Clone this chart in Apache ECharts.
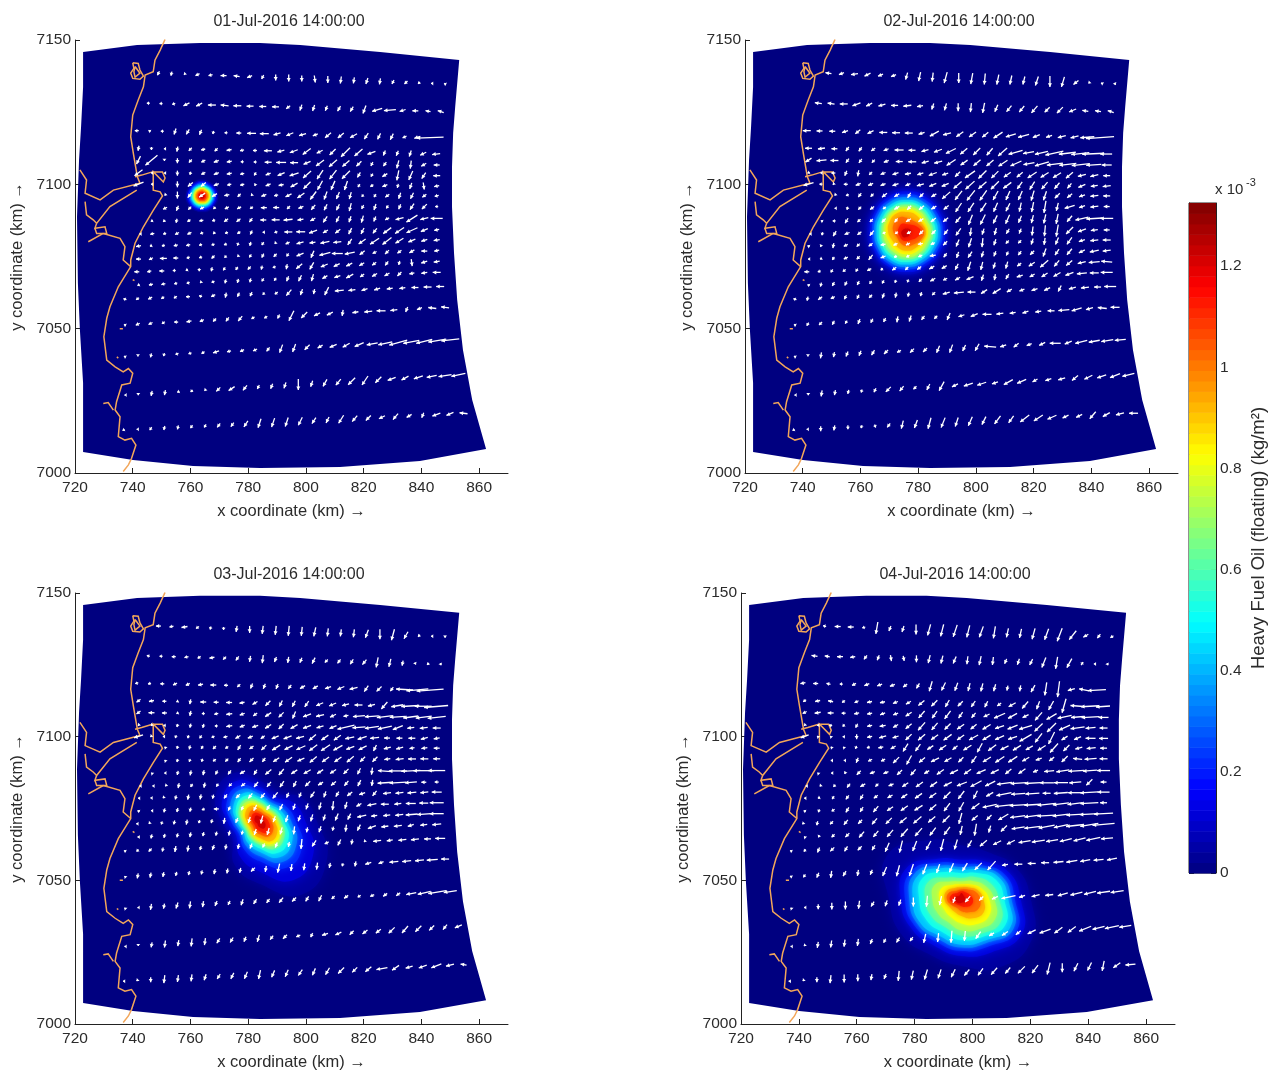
<!DOCTYPE html>
<html><head><meta charset="utf-8">
<script src="https://cdn.jsdelivr.net/npm/echarts@6/dist/echarts.min.js"></script>
<style>html,body{margin:0;padding:0;background:#fff}#c{width:1272px;height:1072px}</style></head>
<body><div id="c"></div>
<script>
const panelTitles=['01-Jul-2016 14:00:00','02-Jul-2016 14:00:00','03-Jul-2016 14:00:00','04-Jul-2016 14:00:00'];
const xTicks=[720,740,760,780,800,820,840,860];
const yTicks=[7000,7050,7100,7150];
const colorbarTicks=[0,0.2,0.4,0.6,0.8,1,1.2];
const colorMax=1.325;

// model domain outline (km)
const domainOutline=[[722.8,7145.8],[741.5,7148.3],[763.3,7149],[784.1,7149],[798,7148.3],[825.7,7145.8],[853.1,7143.1],[851.7,7126.8],[851,7117.8],[850.6,7106],[850.6,7092.2],[851.3,7076.2],[852.4,7059.9],[854.4,7042.6],[857.6,7025.3],[862.4,7008.3],[839.5,7004.2],[811.8,7002.1],[784.1,7001.7],[760.9,7002.4],[740.1,7004.5],[722.8,7007.3],[722.8,7031.2],[721.7,7049.5],[721,7065.8],[720.7,7088.7],[721.4,7108.4],[722.1,7119.9],[722.8,7133.7]];

// coastline (km)
const coastNorth=[[751.2,7150.2],[749.5,7146.5],[747.7,7143],[747.1,7139],[744.3,7137.9],[743.7,7133.8],[741.9,7129.2],[740,7124],[739.3,7116.5],[740.2,7110.8],[741.6,7102.6],[742.5,7100.4],[733.3,7098],[728.7,7094.6],[723.5,7096.9],[724,7101.5],[721.7,7105]];
const coastSouth=[[740.8,7102.6],[743.1,7103.2],[747.1,7104.4],[750.3,7104.3],[751.2,7102.2],[750.6,7100.8],[747.1,7104.4],[747.1,7098],[749.5,7097.4],[750.3,7096],[747.1,7091],[743.7,7085.3],[740.8,7079.6],[739.3,7073.8],[739.3,7071.5],[735,7064.5],[732.1,7057.6],[731,7053.6],[730,7047.2],[731,7039.1],[733.9,7036.8],[736.7,7035],[738.5,7036.2],[740,7034.6],[739.1,7031.1],[736.2,7030.5],[734.4,7024.7],[733.9,7021.8],[735.6,7019.5],[735,7012.6],[737.3,7011.4],[739.6,7012],[741.1,7009.7],[739.6,7005.1],[738.5,7002.8],[736.7,7000.5]];
const coastBranch=[[729.8,7024.1],[731.5,7024.4],[733.3,7021.8]];
const coastEstuary=[[741.4,7098],[732.1,7092.3],[727.5,7086.5],[726.9,7084.8],[730.4,7085.3],[731,7083],[727.5,7083],[726.9,7084.8]];
const coastEstuary2=[[729.8,7083],[735.6,7081.3],[737.3,7078.4],[736.7,7073.8],[739.3,7071.5]];
const coastEstuary3=[[724.6,7080.1],[729.8,7083]];
const coastEstuary4=[[723.5,7094],[724,7089.4],[726.3,7087.7],[727.5,7086.5]];
const coastLoop=[[740,7142.1],[741.9,7141.9],[742.5,7139.6],[743.7,7137.5],[742.5,7136.4],[740,7136.7],[739.3,7138.5],[740.4,7140.2],[740,7142.1]];
const coastLoopInner=[[740.8,7140.8],[742.5,7138.5],[740.8,7137.1],[740.4,7139],[740.8,7140.8]];
const coastIsle1=[[740,7067],[740.6,7066.6]];
const coastIsle2=[[734.5,7040.2],[735,7039.8]];
const coastIsle3=[[735.5,7050],[736.6,7050]];
const coastSegments=[coastNorth,coastSouth,coastBranch,coastEstuary,coastEstuary2,coastEstuary3,coastEstuary4,coastLoop,coastLoopInner,coastIsle1,coastIsle2,coastIsle3];

// current-vector grid rows (km)
const rowStartX=[748.9,745.4,741.4,742,742,742,742,751.2,751.2,746.6,742.5,742,742,741.4,742,737.3,737.3,737.3,737.3,736.8];
const rowEndX=[848.2,846.7,843,845.1,845.3,845.3,845.3,845.3,845.3,845.3,845.3,845.3,845.3,845.3,845.3,846.5,848.2,850,852.8,854.6];
const rowStartY=[7138.5,7128.1,7118.6,7112.5,7108.4,7104,7100.1,7096.3,7091.7,7087.3,7082.8,7078.6,7074.1,7069.7,7065.1,7060.2,7051.3,7040.3,7027,7014.9];
const rowEndY=[7134.8,7125.2,7116.2,7110.5,7106.7,7103,7099.4,7096,7092.3,7088.2,7084.2,7080.7,7077,7073.2,7069.5,7064.6,7057.4,7046.1,7034,7020.7];
const vectorScale=0.3465;

// surface current vectors, panel 1: u,v pairs per row
const vectorsP1=[
[-2,-4,-1,-4,-1,-1,-4,-2,-4,-1,-6,0,-6,1,-5,-2,-2,-4,0,-6,0,-7,0,-6,1,-7,0,-7,-1,-7,-1,-6,-2,-6,-1,-6,-2,-4,-3,-3,-2,-2,-2,0,-2,1],
[-3,0,-3,0,-3,-1,-6,-3,-6,-3,-8,0,-8,1,-8,0,-7,0,-7,0,-7,0,-4,-3,-2,-6,-2,-6,-2,-5,-3,-5,-3,-5,-3,-8,-10,-3,-12,-1,-6,-2,-6,0,-5,1,-6,2],
[-4,0,-2,1,-3,0,-2,-6,-3,-5,-2,-5,-1,-3,-3,0,-5,0,-9,0,-9,0,-7,-2,-7,-3,-7,-2,-5,-2,-6,-5,-6,-5,-7,-4,-4,-6,-3,-6,-3,-6,-4,-2,-6,-2,-27,-1],
[-1,-5,0,-3,-1,0,-1,-5,-3,-3,-4,-1,-3,-3,-5,-1,-4,-1,-4,0,-8,0,-7,-2,-8,-3,-8,-6,-6,-3,-6,-6,-9,-9,-8,-7,-8,-3,-2,-5,-2,-5,-2,-6,-6,-3,-8,-1],
[-4,-8,-12,-10,0,-1,0,-5,-3,-3,-4,-2,-5,-2,-5,-1,-3,0,-3,0,-7,0,-10,0,-8,0,-7,-3,-8,-6,-8,-7,-7,-6,-5,-5,-2,-4,-3,-4,-2,-8,-1,-8,-5,-3,-6,0],
[-8,-6,-1,0,-1,0,0,-5,-1,-3,-4,-2,-5,-2,-5,-1,-4,-1,-2,-3,-5,-2,-7,-3,-9,-3,-8,-7,-6,-9,-7,-9,-8,-8,-3,-5,-2,-3,-5,-3,-2,-10,-4,-9,-4,-6,-7,0],
[-10,-4,-1,0,0,0,0,-6,-5,-4,-5,-4,-5,-2,-4,-1,-4,-1,-1,-2,-5,-2,-5,-1,-7,-4,-7,-7,-5,-9,-4,-9,-3,-9,-2,-3,-3,-2,-5,-2,-1,-4,-2,-6,1,-7,-5,-1],
[-1,-1,0,-7,-4,-5,-6,-4,-5,-3,-5,-1,-3,-3,-1,-1,-5,-2,-4,-1,-6,-3,-7,-5,-6,-8,-3,-8,-3,-7,-2,-7,-2,-2,-2,-3,-4,-3,-2,-6,-3,-6,-4,-3,-4,-1],
[-4,-2,-2,-5,-3,-3,-4,-2,-2,-2,-4,-2,-4,-2,-3,-2,-6,0,-6,0,-3,-3,-5,-2,-4,-5,-3,-6,-3,-6,-2,-8,-2,-4,-2,-6,-2,-3,-2,-5,-4,-6,-5,-5,-3,0],
[-2,-1,-2,-2,-1,-4,-3,-2,-4,-1,-3,-1,-4,-3,-4,-3,-3,-4,-6,0,-8,0,-9,-1,-6,-1,-5,-3,-4,-6,-3,-6,-2,-6,-2,-7,-2,-5,-4,-2,-8,-2,-11,-7,-8,-2,-12,0],
[-1,0,-4,-1,-3,-1,-4,-2,-4,-2,-3,-1,-2,-2,-3,-1,-3,-2,-2,-4,-2,0,-3,-1,-8,0,-9,0,-8,-3,-5,-3,-5,-4,-3,-6,-3,-6,-4,-5,-8,-6,-9,-6,-11,-5,-7,-3,-5,-1],
[-5,-1,-2,-1,-3,-1,-4,-1,-4,-1,-3,-1,-3,-1,-3,-1,-1,-3,-1,-4,-2,-3,-1,-1,-4,-2,-7,-2,-6,-1,-9,-2,-8,-1,-4,-6,-7,-5,-9,-6,-9,-7,-8,-5,-7,-3,-6,-2,-6,-1],
[-5,0,-4,-2,-7,0,-5,0,-3,-1,-3,-1,-3,-3,-2,-2,-1,-1,-2,-3,-2,-4,-3,-3,-2,-3,-7,-3,-3,-7,-11,-3,-11,0,-10,-2,-5,-4,-4,-2,-4,-4,-4,-3,-5,-3,-6,0,-5,-1],
[-5,0,-4,-1,-5,0,-3,0,-2,-1,0,-3,-1,-4,-2,-3,-2,-3,-3,-3,-1,-4,-3,-1,-1,-5,-6,-5,-4,-7,-7,-3,-6,-3,-6,-3,-5,-3,-4,-3,-3,-4,-1,-4,1,-7,-6,-2,-6,-1],
[-2,-1,-4,-1,-4,-1,-3,-1,-3,-1,-1,-1,-3,-1,-1,-4,-1,-4,-1,-4,-2,-3,-2,-3,-2,-5,-3,-6,-2,-7,-5,-3,-6,-2,-7,-4,-4,-3,-5,-3,-5,-3,-4,-4,-5,-1,-6,-1,-8,0],
[-3,1,-3,-2,-4,-2,-3,-2,-3,-2,-4,0,-3,1,-4,-2,-1,-5,-2,-4,-2,-4,-2,-2,-3,-2,-5,-6,-2,-6,-1,-5,-4,-8,-9,-1,-7,-1,-6,-2,-6,-2,-6,-1,-6,-1,-7,0,-8,0,-8,0],
[-2,1,-4,-2,-4,-2,-3,-2,-4,0,-5,-1,-4,-2,-3,-3,-3,-4,-4,-5,-3,-2,-3,-2,-2,-4,-5,-10,-6,-6,-6,-3,-6,-3,-1,-6,-6,-1,-8,-1,-9,0,-7,-1,-2,-5,-5,-2,-8,1,-8,1],
[-2,1,0,-1,-1,-4,-1,-3,-3,-1,-3,-1,-3,-2,-6,-2,-4,-1,-4,-2,-4,-2,-3,-4,-3,-8,-3,-8,-5,-5,-5,-3,-7,-3,-7,-4,-9,-4,-11,-2,-14,-3,-18,-5,-16,-3,-16,-4,-18,-3,-18,-2],
[-1,0,0,-2,-1,-5,-1,-5,-2,-1,-2,-2,-1,-1,-4,-4,-6,-4,-4,-5,-2,-4,-2,-5,-2,-6,0,-11,-2,-6,-4,-7,-5,-6,-7,-7,-6,-9,-6,-6,-8,-3,-7,-4,-9,-3,-10,-2,-13,-2,-14,-3],
[-2,-1,-1,0,-2,-3,-1,-4,-1,-4,-2,-3,-2,-3,-3,-4,-3,-4,-4,-6,-3,-9,-3,-9,-3,-9,-4,-8,-4,-6,-3,-6,-5,-8,-5,-6,-5,-5,-6,-3,-5,-6,-5,-3,-2,-5,-8,-3,-7,-3,-8,1]];

const vectorsP2=[
[-6,1,-5,-2,-7,-1,-6,-3,-5,-2,-5,-2,-2,-7,-2,-9,-1,-9,-3,-11,0,-10,-2,-11,-1,-11,-2,-10,-2,-9,-2,-8,-3,-9,0,-11,-3,-10,-5,-4,-1,-1,-2,1,1,-2],
[-7,1,-7,1,-8,0,-8,-3,-6,-3,-7,-2,-7,0,-8,-1,-6,-1,-2,-6,-2,-7,0,-8,-1,-9,-2,-10,-3,-7,-5,-6,-5,-6,-6,-7,-5,-5,-6,-6,-7,-3,-6,1,-6,1,-6,2],
[-8,0,-6,0,-6,0,-6,-2,-5,-4,-6,-3,-8,0,-8,0,-8,0,-6,-2,-9,-5,-8,-2,-7,-5,-7,-5,-6,-5,-9,-6,-10,-3,-11,-3,-7,-3,-6,-2,-8,-2,-8,-2,-14,-1,-28,-2],
[-7,0,-7,-1,-6,0,-3,-4,-3,-4,-4,-3,-5,-2,-9,0,-7,0,-7,-2,-8,-3,-10,-5,-7,-6,-7,-7,-6,-7,-9,-8,-14,-4,-11,-2,-13,-3,-18,-4,-17,-2,-18,-2,-22,-1,-12,0],
[-6,-4,-10,-1,-8,0,-3,-4,-3,-4,-3,-3,-5,-2,-7,0,-8,0,-7,-2,-8,-2,-9,-6,-7,-5,-7,-6,-7,-6,-9,-6,-11,-5,-11,-2,-14,-4,-16,-2,-17,-2,-18,-2,-15,-1,-10,0],
[-2,-1,-1,0,-4,0,-2,-5,-1,-6,-3,-3,-5,-2,-6,-2,-6,-1,-6,-2,-8,-3,-6,-2,-5,-5,-10,-7,-8,-8,-7,-7,-7,-5,-6,-5,-9,-6,-8,-5,-8,-5,-7,-6,-8,-2,-8,-2,-7,0],
[-10,-3,-3,0,-1,-1,-4,0,-5,-2,-5,-2,-5,-2,-6,-2,-5,-2,-7,-2,-7,-3,-7,-3,-8,-7,-9,-8,-8,-7,-8,-8,-8,-6,-5,-7,-5,-8,-6,-7,-5,-6,-4,-5,-7,-3,-7,-1,-8,-1],
[-1,-1,-3,-1,-3,-4,-3,-3,-5,-4,-5,-3,-3,-5,-4,-4,-5,-3,-8,-7,-7,-9,-8,-10,-7,-10,-5,-9,-4,-9,-4,-9,-3,-10,-3,-9,-5,-5,-5,-4,-6,-2,-8,-1,-7,0],
[-1,0,-1,-3,-3,-3,-4,-3,-3,-2,-5,-3,-4,-4,-5,-4,-5,-3,-5,-4,-6,-9,-6,-9,-6,-9,-4,-9,-4,-8,-2,-9,-2,-10,-2,-12,-2,-8,-10,-3,-6,-2,-8,-1,-6,0],
[-2,1,-3,0,-3,-5,-3,-3,-3,-3,-4,-4,-3,-4,-5,-3,-5,-3,-5,-4,-5,-4,-5,-6,-4,-10,-5,-10,-4,-8,-4,-9,-3,-7,-2,-8,-2,-9,-2,-10,-5,-6,-13,-3,-16,-1,-13,0],
[-1,0,-1,-3,-3,-5,-5,-2,-4,-3,-4,-5,-3,-1,-3,-2,-4,-2,-4,-4,-4,-4,-4,-5,-5,-7,-1,-8,-2,-6,-2,-7,-3,-5,-2,-5,-1,-9,-1,-11,-2,-12,-7,-7,-8,-3,-7,-1,-6,0],
[-2,1,-1,-2,-1,-5,-4,-2,-3,-3,-4,-3,-5,-1,-4,-2,-4,-2,-5,-1,-4,-2,-4,-4,-3,-7,-3,-9,-1,-9,-2,-6,-3,-3,-3,-3,-2,-6,-1,-7,-3,-7,-5,-7,-6,-2,-8,-1,-8,0],
[-1,0,-2,-1,-2,-3,-4,-2,-3,-3,-4,-5,-5,-2,-3,-1,-3,-2,-4,-2,-6,-1,-3,-4,-2,-6,-4,-6,-2,-6,-2,-5,-2,-4,-3,-4,-4,-4,-3,-8,-4,-6,-5,-6,-6,-3,-9,-2,-8,-1],
[-5,0,-3,-1,-2,-3,-3,-2,-2,-3,-4,-2,-2,-2,-4,-3,-3,-3,-4,-3,-5,-3,-5,-3,-3,-6,-3,-9,-2,-8,-2,-6,-2,-7,-4,-3,-6,-4,-8,-7,-5,-6,-6,-5,-8,-2,-11,-1,-11,1],
[-2,1,-1,-4,-2,-4,-2,-4,-2,-4,-2,-3,-2,-3,-1,-3,-1,-3,-3,-3,-5,-3,-4,-2,-5,-3,-7,-3,-2,-6,-1,-6,-3,-5,-6,-2,-5,-3,-6,-4,-7,-4,-8,-3,-10,-1,-9,0,-12,0],
[-3,1,-1,-4,-4,-3,-4,-2,-2,-4,-2,-4,-3,-3,-2,-5,-1,-5,-1,-4,-1,-4,-3,-3,-7,-2,-10,-1,-8,0,-6,-4,-8,-5,-5,-3,-5,-2,-6,-2,-6,-3,-3,-6,-7,-2,-8,-1,-7,0,-12,0],
[-2,1,-2,-3,-3,-3,-2,-4,-2,-3,-2,-5,-2,-4,-2,-4,-1,-6,-2,-6,-3,-4,-3,-3,-3,-7,-6,-2,-7,-3,-9,0,-7,-1,-6,-1,-6,-2,-6,-1,-7,0,-11,-1,-10,-3,-7,-2,-9,1,-9,0],
[-2,1,0,-1,-1,-6,-1,-5,-2,-5,-2,-5,-3,-5,-4,-4,-4,-2,-4,-4,-4,-4,-3,-7,-3,-8,-3,-6,-4,-7,-12,1,-6,-2,-5,-4,-5,-2,-6,-3,-11,0,-7,-3,-12,-3,-11,-2,-12,-2,-11,-1],
[-1,0,0,-2,-1,-6,-1,-5,-1,-4,-1,-3,-2,-4,-5,-5,-4,-5,-3,-3,-3,-6,-5,-9,-6,-3,-9,-3,-9,-3,-6,-2,-9,-5,-9,-4,-5,-3,-6,-2,-7,-2,-6,-5,-8,-4,-9,-3,-10,-4,-12,-3],
[-2,-1,-1,0,0,-5,-1,-5,0,-4,-1,-3,1,-3,-3,-4,-2,-8,-3,-8,-3,-11,-4,-10,-3,-9,-4,-9,-4,-8,-6,-8,-5,-7,-9,-7,-9,-6,-9,-4,-6,-3,-6,-3,-6,-7,-7,-4,-8,-2,-9,0]];

const vectorsP3=[
[-5,0,-4,-1,-6,-1,-3,-2,-1,-3,0,-3,-1,-6,0,-7,-1,-8,-1,-9,-1,-10,-1,-9,-2,-9,-1,-8,-1,-7,-1,-8,-3,-8,0,-10,-3,-11,-4,-7,-2,-2,-2,0,0,-2],
[-3,1,-3,0,-4,0,-4,-1,-3,-2,-5,-1,-3,-3,-3,-4,-1,-6,-1,-8,-2,-5,-1,-6,-2,-5,-3,-6,-3,-3,-3,-4,-3,-5,-4,-5,-2,-10,-2,-8,-1,-5,1,-2,-2,-2,1,-2],
[-3,-1,-3,-1,-4,0,-4,-2,-4,-2,-5,-1,-6,0,-4,0,-3,-3,-2,-5,-2,-5,-2,-5,-3,-4,-5,-3,-5,-3,-6,-2,-7,-3,-8,-2,-4,-6,-5,-5,-3,-4,-17,1,-22,-2,-27,-2],
[-4,-3,-5,-1,-4,0,-2,-1,-1,-5,-6,0,-5,0,-6,0,-5,-1,-5,-3,-5,-5,-3,-6,-3,-6,-4,-6,-7,-3,-7,-3,-7,-2,-8,0,-7,-2,-6,-7,-12,-2,-18,-1,-17,0,-24,-2],
[-4,-3,-6,0,-5,0,-2,-1,-1,-5,-3,0,-4,-1,-6,-1,-5,-2,-4,-3,-6,-4,-5,-5,-3,-7,-8,-3,-8,-2,-6,-3,-5,-1,-12,-1,-14,-1,-16,-2,-16,-1,-15,-2,-16,-2,-18,-2],
[-1,-1,-1,-1,-2,0,-1,-3,-1,-4,-1,-4,-3,0,-6,-1,-5,-2,-6,-2,-6,-4,-5,-5,-7,-4,-8,-3,-7,-2,-7,-3,-17,-4,-13,-1,-14,-2,-14,-3,-10,-4,-7,-1,-8,-1,-8,0],
[-9,-3,-1,-1,-1,0,-1,-3,-1,-3,-2,-3,-3,-1,-4,-1,-5,-3,-5,-2,-4,-3,-7,-3,-8,-3,-8,-2,-7,-6,-7,-5,-7,-5,-9,-2,-9,-3,-9,-1,-6,0,-6,0,-7,0,-7,-2,-6,-1],
[-1,1,-1,-3,-1,-4,-2,-3,-3,-3,-3,-2,-3,-5,-4,-3,-5,-5,-8,-5,-8,-4,-9,-4,-8,-6,-9,-6,-9,-5,-8,-3,-8,-4,-3,-6,-7,-2,-7,-2,-5,-1,-6,-1,-6,0],
[-1,1,-1,-3,-1,-3,-1,-3,-3,-2,-3,-3,-3,-4,-4,-4,-3,-4,-6,-4,-7,-5,-7,-3,-7,-6,-7,-5,-7,-5,-7,-6,-5,-5,-5,-5,-6,-1,-8,-1,-8,0,-8,0,-7,0],
[-1,1,-1,0,-1,-4,-1,-5,-1,-5,-2,-4,-3,-4,-5,-3,-3,-5,-6,-5,-5,-6,-6,-4,-7,-4,-6,-4,-6,-4,-5,-5,-3,-6,-1,-7,-14,1,-18,0,-19,-1,-21,0,-17,0],
[-1,0,-1,0,-1,-1,-1,-5,-2,-3,-1,-5,-2,-3,-3,-3,-4,-3,-4,-5,-4,-5,-4,-6,-3,-6,-5,-5,-5,-3,-5,-4,-4,-5,-3,-6,-1,-6,-15,-1,-17,-1,-12,-1,-5,0,-4,0],
[-1,0,-1,0,-1,-1,-1,-4,-1,-5,-1,-5,-1,-4,-3,-4,-4,-4,-4,-5,-4,-5,-5,-6,-2,-5,-2,-5,-4,-6,-2,-6,-3,-5,-5,-4,-6,-2,-4,-5,-8,-1,-8,-1,-9,-1,-8,-1,-10,0],
[-2,1,-1,0,-1,-4,-1,-4,-1,-4,-3,-1,-5,0,-2,-4,-2,-4,-3,-6,-3,-5,-3,-6,-2,-6,-2,-6,-2,-7,-1,-9,-2,-7,-5,-3,-9,-2,-8,0,-7,-1,-10,0,-9,0,-14,0],
[-1,0,-1,-1,-1,-3,-1,-4,-1,-5,-1,-3,-1,-4,-1,-6,-2,-5,-2,-6,-2,-8,-2,-6,-2,-7,-2,-6,-2,-7,-2,-6,-3,-7,-3,-6,-9,-2,-6,-1,-7,-1,-8,-1,-12,-1,-14,-1,-14,0],
[-2,0,-1,-4,-1,-4,-1,-4,-1,-5,-1,-4,-1,-4,-1,-5,-1,-4,-2,-6,-2,-7,-2,-7,-1,-8,-1,-5,-2,-6,-1,-4,-1,-7,-3,-6,-8,-3,-7,-1,-8,-1,-6,-2,-7,-1,-9,-1],
[-2,1,-2,-2,-3,-3,-1,-4,-1,-6,-1,-6,-1,-4,-2,-5,-1,-5,-1,-5,-2,-5,-2,-4,-2,-5,-1,-5,-1,-10,-4,-6,-4,-2,-3,-6,-1,-5,-1,-1,-8,-1,-6,-1,-8,-1,-8,-1,-7,0,-10,0],
[-1,1,-1,-5,-1,-5,-1,-5,-1,-4,-1,-4,-1,-4,-1,-5,-1,-5,-1,-5,-4,-4,-1,-6,-2,-9,-1,-7,-1,-7,-1,-7,-1,-5,-1,-3,-1,-5,-6,-2,-5,-2,-9,-1,-9,-1,-9,-1,-11,-1,-8,0],
[-1,1,-1,0,-1,-6,-1,-5,-2,-6,-1,-7,-1,-6,-2,-5,-2,-4,-2,-6,-3,-5,-3,-4,-4,-5,-4,-4,-3,-5,-3,-6,-3,-3,-4,-3,-3,-2,-4,-2,-4,-3,-4,-3,-10,-2,-13,-3,-18,-3,-13,-2],
[-1,0,0,-1,-1,-5,-1,-7,-1,-6,-1,-8,-1,-7,-3,-5,-3,-5,-2,-5,-2,-7,-3,-4,-4,-4,-4,-2,-2,-4,-6,-2,-6,-3,-4,-4,-5,-4,-5,-4,-6,-6,-6,-7,-6,-6,-5,-5,-4,-5,-7,-3],
[-1,0,-1,-1,0,-5,-1,-8,-1,-7,-1,-7,-2,-6,-3,-5,-3,-6,-3,-7,-2,-9,-3,-7,-3,-7,-4,-6,-3,-7,-4,-7,-6,-6,-5,-5,-6,-5,-11,-2,-7,-5,-7,-2,-8,-3,-10,-4,-8,-2,-6,1]];

const vectorsP4=[
[-3,1,-6,0,-6,0,-3,-1,-2,-12,-2,-5,-2,-6,0,-10,-3,-11,-3,-12,-4,-12,-3,-12,-4,-11,-2,-12,-2,-9,-2,-9,-3,-11,-4,-11,-5,-13,-7,-9,-5,-3,-3,-4,-3,-2],
[-6,1,-5,1,-6,0,-5,-1,-3,-4,-2,-5,1,-6,1,-5,0,-7,-2,-8,-2,-8,-3,-7,-1,-8,-2,-9,-1,-8,-2,-5,-2,-6,-3,-6,-4,-10,-2,-12,-5,-9,2,3,-2,0,1,-2],
[-5,-1,-5,0,-4,1,-3,0,-4,-2,-5,-2,-5,-2,-5,-2,-4,-3,-3,-5,-3,-10,-4,-8,-3,-8,-2,-8,-2,-8,-2,-7,-1,-5,-1,-6,-4,-7,-2,-13,-2,-16,-7,-2,-10,2,-18,-1],
[-3,-2,-5,-1,-5,1,-3,-2,-4,-2,-5,-1,-5,-1,-5,-2,-5,-3,-6,-5,-6,-6,-4,-7,-5,-5,-4,-6,-3,-6,-4,-3,-7,-4,-6,-7,-3,-8,-5,-9,-4,-14,-13,1,-18,-1,-14,-1],
[-4,-2,-6,-1,-6,0,-4,0,-5,-1,-5,-1,-5,-2,-5,-2,-6,-4,-6,-7,-5,-7,-6,-8,-4,-6,-4,-5,-6,-3,-11,-5,-9,-5,-6,-3,-7,-8,-10,-6,-14,-3,-13,-1,-18,-1,-10,0],
[-1,-1,-1,0,-3,1,-2,-2,-2,-4,-5,-1,-6,-1,-5,-3,-6,-5,-7,-8,-6,-7,-6,-6,-7,-5,-6,-5,-8,-5,-9,-3,-10,-4,-13,-4,-8,-8,-9,-9,-11,-5,-14,-2,-10,-1,-8,0],
[-8,-3,-1,1,-1,1,-2,0,0,-5,-5,-1,-7,-2,-6,-2,-6,-6,-7,-6,-7,-5,-8,-6,-7,-5,-9,-5,-8,-5,-9,-4,-9,-3,-12,-7,-7,-9,-6,-12,-6,-4,-7,-3,-10,0,-9,0],
[-1,1,-1,1,-1,-3,-3,-1,-5,-1,-5,-3,-5,-8,-5,-7,-6,-4,-7,-5,-5,-4,-8,-5,-5,-9,-8,-6,-8,-4,-8,-5,-7,-4,-8,-5,-8,-9,-6,-6,-7,-2,-9,-1,-7,0],
[-1,0,-1,0,-2,-5,-4,-2,-4,-2,-6,-6,-5,-9,-6,-5,-8,-4,-7,-4,-5,-5,-5,-7,-8,-5,-9,-6,-9,-6,-7,-4,-6,-2,-5,-4,-6,-6,-9,1,-12,-1,-8,0],
[-1,1,-1,0,-1,-2,-4,-4,-5,-2,-5,-2,-5,-5,-5,-6,-5,-3,-7,-5,-8,-4,-7,-5,-9,-4,-8,-4,-6,-5,-7,-5,-5,-2,-10,-1,-13,-2,-16,-1,-14,-1,-13,0],
[-1,0,-1,-1,-2,-2,-3,-4,-5,-3,-3,-3,-5,-2,-6,-4,-7,-5,-7,-5,-8,-4,-10,-4,-11,-6,-10,-5,-15,-2,-16,-1,-16,-1,-14,0,-14,0,-12,-1,-6,-6,-6,0],
[-1,0,-2,-1,-2,-3,-3,-4,-3,-5,-4,-3,-5,-3,-6,-4,-7,-5,-7,-5,-7,-7,-6,-8,-4,-8,-7,-4,-15,-3,-14,-1,-14,-1,-8,0,-14,-1,-14,0,-18,-1,-12,0],
[-2,1,-1,-3,-3,-2,-3,-5,-3,-5,-5,-6,-6,-4,-7,-5,-8,-5,-7,-6,-6,-8,-5,-9,-8,-6,-14,-3,-18,-2,-17,-1,-16,-1,-18,-2,-16,-2,-15,-2,-18,-1,-7,0],
[-1,-1,-1,-4,-3,-3,-4,-5,-4,-4,-5,-6,-6,-6,-7,-6,-8,-7,-7,-6,-7,-7,-3,-11,-6,-5,-5,-5,-10,-6,-15,-2,-15,-2,-18,-1,-16,-2,-17,-1,-19,-1,-19,-1],
[-1,1,-1,-2,-3,-3,-4,-4,-5,-6,-5,-6,-6,-7,-7,-8,-7,-8,-6,-8,-6,-8,-2,-9,-2,-12,-2,-7,-6,-6,-13,-2,-16,-2,-16,-3,-14,-3,-18,-2,-18,-3,-22,-2],
[-2,1,-2,-2,-2,-5,-4,-4,-3,-5,-4,-4,-3,-5,-4,-9,-3,-12,-4,-10,-5,-9,-3,-12,-3,-10,-4,-7,-7,-6,-8,-4,-8,-4,-12,-2,-13,-2,-12,-2,-12,-3,-12,-3,-14,-3,-12,-1],
[-2,1,-2,-3,-2,-5,-1,-7,-3,-5,-1,-6,-2,-5,-4,-9,-3,-11,-4,-12,-4,-10,-3,-9,-4,-9,-5,-8,-7,-7,-8,-9,-6,-1,-8,0,-8,0,-8,0,-10,-1,-11,-2,-10,-2,-10,-1,-10,-2],
[-1,1,-1,0,0,-5,0,-7,0,-8,-1,-8,-3,-5,-2,-6,-2,-6,0,-9,-1,-11,-2,-9,-2,-6,-5,-6,-4,-4,-6,-3,-14,-3,-6,-2,-8,-2,-8,-1,-10,-3,-12,-3,-12,-3,-13,-2,-13,-2],
[-1,0,-1,-1,-1,-6,-1,-7,-1,-7,-1,-7,-2,-5,-2,-4,-3,-5,-3,-4,-2,-9,-1,-9,-1,-12,-1,-10,-5,-7,-5,-3,-6,-4,-5,-4,-8,-4,-11,-4,-8,-6,-8,-6,-12,-5,-12,-3,-14,-3,-12,-2],
[-2,0,-1,-1,0,-5,-1,-8,0,-8,0,-7,-1,-6,-2,-5,-1,-10,-2,-9,-3,-10,-3,-9,-4,-8,-5,-6,-5,-7,-6,-7,-5,-6,-7,-7,-6,-8,-3,-12,0,-9,-4,-8,-4,-8,-2,-10,-7,-5,-10,-1]];

// oil patch: contour levels (x 10^-3 kg/m2) with radii (km) every 30 degrees from east, counter-clockwise
const blobLevels=[0.04,0.12,0.22,0.32,0.42,0.52,0.62,0.72,0.82,0.92,1.02,1.12,1.22];
const blobCenters=[[764,7096],[776,7083.6],[784.1,7070.3],[796.2,7043.2]];
const blobRadiiP1=[
[5.6,5.6,5.5,5.6,5.6,5.5,5.6,5.6,5.6,5.5,5.6,5.6],[5.1,5.1,5,5.1,5.1,5,5.1,5.1,5.1,5,5.1,5.1],[4.6,4.6,4.5,4.6,4.6,4.6,4.6,4.6,4.6,4.5,4.6,4.6],
[4.2,4.2,4.1,4.2,4.2,4.2,4.2,4.2,4.2,4.1,4.2,4.2],[3.8,3.8,3.7,3.8,3.8,3.8,3.8,3.8,3.8,3.7,3.8,3.8],[3.5,3.5,3.4,3.5,3.5,3.5,3.5,3.5,3.5,3.4,3.5,3.5],
[3.2,3.2,3.1,3.2,3.2,3.2,3.2,3.2,3.2,3.1,3.2,3.2],[2.9,2.9,2.8,2.9,2.9,2.9,2.9,2.9,2.9,2.8,2.9,2.9],[2.6,2.6,2.5,2.6,2.6,2.6,2.6,2.6,2.6,2.5,2.6,2.6],
[2.3,2.3,2.2,2.3,2.3,2.3,2.3,2.3,2.3,2.2,2.3,2.3],[1.9,1.9,1.8,1.9,1.9,1.9,1.9,1.9,1.9,1.8,1.9,1.9],[1.4,1.4,1.3,1.4,1.4,1.4,1.4,1.4,1.4,1.3,1.4,1.4],[0.9,0.9,0.9,0.9,0.9,0.9,0.9,0.9,0.9,0.9,0.9,0.9]];
const blobRadiiP2=[
[14.2,14,14.6,15,14.6,13.8,13.6,13.8,14.4,14.8,14.4,14.2],[13.4,13.2,13.8,14,13.6,13,12.8,13,13.6,14,13.6,13.4],[12.5,12.4,12.8,13,12.6,12.2,12,12.2,12.8,13.1,12.7,12.5],
[11.8,11.4,11.8,12,11.8,11.4,11.2,11.4,12,12.2,11.9,11.6],[10.8,10.6,10.9,11,10.9,10.6,10.4,10.6,11.2,11.4,11,10.8],[10,9.6,10,10.2,10,9.6,9.6,9.8,10.3,10.5,10.2,9.9],
[9.2,8.8,9.2,9.4,9.2,8.9,8.8,9,9.4,9.6,9.4,9],[8.4,8,8.4,8.6,8.6,8.2,8,8.2,8.4,8.8,8.6,8.2],[7.4,7,7.6,7.8,7.8,7.4,7.2,7,7.4,7.8,7.6,7.2],
[6.6,6,6.6,6.8,7.2,6.8,6.4,5.8,6.2,6.6,6.4,6.2],[6,5,4.4,4.8,5.6,5.2,4.6,3.8,4.4,5,5,5.6],[5,3.8,2.8,2.6,3.2,3,3,2.8,3.2,3.2,3.2,4],[1.6,1.4,1.2,1,1.2,1.4,1.8,2,2.2,1.8,1.6,1.4]];
const blobRadiiP3=[
[19.8,16.8,11.6,14.4,19.4,17.8,13.2,11.2,17.4,21.6,29.1,26.7],[15.8,13.4,9.9,12.2,16.5,15.1,11.2,9.5,13.9,17.3,23.3,21.4],[12.5,10.6,8.7,10.8,14.6,13.4,9.9,8.4,11,13.7,18.4,16.9],
[10.9,9.2,7.8,9.7,13.1,12,8.9,7.6,9.6,11.9,16,14.7],[9.6,8.1,7,8.6,11.6,10.7,7.9,6.7,8.4,10.4,14.1,12.9],[8.4,7.2,6.3,7.8,10.5,9.6,7.1,6,7.4,9.2,12.4,11.4],
[7.3,6.2,5.6,6.9,9.3,8.5,6.3,5.4,6.4,7.9,10.7,9.8],[6.5,5.5,5,6.2,8.3,7.7,5.7,4.8,5.7,7.1,9.5,8.7],[5.9,5,4.4,5.5,7.4,6.8,5,4.3,5.2,6.5,8.7,8],
[5.1,4.4,3.8,4.8,6.4,5.9,4.4,3.7,4.5,5.6,7.6,6.9],[4,3.4,2.9,3.6,4.9,4.5,3.3,2.8,3.5,4.3,5.8,5.3],[3,2.5,2.2,2.7,3.7,3.4,2.5,2.1,2.6,3.2,4.4,4],[1.5,1.2,1.5,1.8,2.6,2.2,1.6,1,1.4,1.9,2.6,2.2]];
const blobRadiiP4=[
[24,22,19,19,24,30,25,24,22,23,27,28],[20.5,19,15.5,14,16.5,22,21,20,18.5,19.5,21,24],[18.5,17.4,14,12.5,15,20,19.5,18.5,17,17.8,18.7,22],
[17.3,16.2,13,11.4,13.8,18.6,18,17.3,15.8,16.6,17.3,20.6],[16.2,15.2,12.1,10.4,12.8,17.2,16.8,16.3,14.6,15.6,16.3,19.4],[14.8,13.8,10.8,9.3,11.2,15.4,14.6,14,13,14,14.8,17.5],
[13,11.5,9.2,7.6,9,13,12.5,11.8,11,12.4,13.6,15.6],[11.4,9.6,7.6,6.4,7.4,10.6,10,9.4,9,10.6,11.8,13.4],[9.6,8,6.2,5.4,6,8,7.6,6.8,7,8.2,9.8,11],
[7.6,6.6,5,4.4,4.8,6,5.8,4.8,4.8,5.6,7.4,8.8],[6.5,5.6,4.2,3.6,3.6,5,5,3.8,3.2,4,5,6.6],[4,3.4,3,3,2.8,3.8,4,2.5,2,2.2,2.8,3.8],[1.8,1.4,1.6,2.4,1.6,2.2,2.4,1.8,1.4,1,1,1.5]];

const panelVectors=[vectorsP1,vectorsP2,vectorsP3,vectorsP4];
const panelBlobs=[blobRadiiP1,blobRadiiP2,blobRadiiP3,blobRadiiP4];
const gridBoxes=[{left:75,top:40,width:433,height:433},{left:745,top:40,width:433,height:433},{left:75,top:593,width:433,height:433},{left:741,top:593,width:434,height:433}];
const titleCenters=[[289,14],[959,14],[289,567],[955,567]];

function jet(v){
  const t=Math.max(0,Math.min(1,v/colorMax));
  const ch=c=>Math.round(255*Math.max(0,Math.min(1,1.5-Math.abs(4*t-c))));
  return 'rgb('+ch(3)+','+ch(2)+','+ch(1)+')';
}
const TEXT='#2b2b2b',FONT='"Liberation Sans",Arial,sans-serif';
const axisBase={axisLine:{show:true,onZero:false,lineStyle:{color:'#222',width:1}},splitLine:{show:false},
  nameTextStyle:{color:TEXT,fontSize:16.5,fontFamily:FONT},nameLocation:'middle'};
const tickLabel={color:TEXT,fontSize:15.5,fontFamily:FONT,margin:6,formatter:v=>String(v)};

const grids=[],xAxes=[],yAxes=[],series=[],titles=[];
gridBoxes.forEach((g,i)=>{
  grids.push(g);
  xAxes.push({...axisBase,type:'value',gridIndex:i,min:720,max:870,name:'x coordinate (km) →',nameGap:30,
    axisTick:{inside:true,length:5,customValues:xTicks,lineStyle:{color:'#222'}},axisLabel:{...tickLabel,margin:7,customValues:xTicks}});
  yAxes.push({...axisBase,type:'value',gridIndex:i,min:7000,max:7150,name:'y coordinate (km) →',nameGap:49,
    axisTick:{inside:true,length:5,customValues:yTicks,lineStyle:{color:'#222'}},axisLabel:{...tickLabel,margin:4,customValues:yTicks}});
  titles.push({text:panelTitles[i],left:titleCenters[i][0],top:titleCenters[i][1],textAlign:'center',padding:0,
    textStyle:{color:TEXT,fontSize:16,fontWeight:'normal',fontFamily:FONT}});
  series.push({type:'custom',xAxisIndex:i,yAxisIndex:i,z:1,silent:true,clip:false,data:[[0]],
    renderItem:(p,api)=>({type:'polygon',shape:{points:domainOutline.map(c=>api.coord(c))},style:{fill:'#000080'}})});
  const blob=panelBlobs[i],ctr=blobCenters[i];
  series.push({type:'custom',xAxisIndex:i,yAxisIndex:i,z:2,silent:true,data:blobLevels.map((v,k)=>[v,k]),
    encode:{x:-1,y:-1},
    renderItem:(p,api)=>{
      const k=api.value(1),v=api.value(0);
      const pts=blob[k].map((r,a)=>{const t=a*Math.PI/6;return api.coord([ctr[0]+r*Math.cos(t),ctr[1]+r*Math.sin(t)]);});
      const c=jet(v);
      const blur=i===0?1.5:(v<0.15?14:(v<0.3?8:5));
      return {type:'polygon',shape:{points:pts,smooth:0.5},style:{fill:c,shadowBlur:blur,shadowColor:c}};
    }});
  series.push({type:'lines',coordinateSystem:'cartesian2d',xAxisIndex:i,yAxisIndex:i,polyline:true,z:3,silent:true,
    lineStyle:{color:'#f2a65a',width:1.5,opacity:1},data:coastSegments.map(s=>({coords:s}))});
  const arrows=[];
  panelVectors[i].forEach((row,r)=>{
    const n=row.length/2;
    for(let j=0;j<n;j++){const f=n>1?j/(n-1):0;
      arrows.push([rowStartX[r]+(rowEndX[r]-rowStartX[r])*f,rowStartY[r]+(rowEndY[r]-rowStartY[r])*f,row[2*j],row[2*j+1]]);}
  });
  series.push({type:'custom',xAxisIndex:i,yAxisIndex:i,z:4,silent:true,data:arrows,encode:{x:0,y:1},
    renderItem:(p,api)=>{
      const x=api.value(0),y=api.value(1),u=api.value(2)*vectorScale,v=api.value(3)*vectorScale;
      const a=api.coord([x-u/2,y-v/2]),b=api.coord([x+u/2,y+v/2]);
      let dx=b[0]-a[0],dy=b[1]-a[1];const L=Math.hypot(dx,dy)||1;dx/=L;dy/=L;
      const h=Math.min(3.6,Math.max(2.2,L*0.65)),w=2;
      const bx=b[0]-dx*h,by=b[1]-dy*h;
      return {type:'group',children:[
        {type:'line',shape:{x1:a[0],y1:a[1],x2:b[0],y2:b[1]},style:{stroke:'#fff',lineWidth:1.3}},
        {type:'polygon',shape:{points:[b,[bx-dy*w,by+dx*w],[bx+dy*w,by-dx*w]]},style:{fill:'#fff'}}
      ]};
    }});
});

// colour bar
const cbLevels=[];for(let k=0;k<64;k++)cbLevels.push(k);
grids.push({left:1189,top:203,width:27,height:670,show:true,borderColor:'#222',borderWidth:1,backgroundColor:'transparent'});
xAxes.push({type:'value',gridIndex:4,min:0,max:1,show:false});
yAxes.push({...axisBase,type:'value',gridIndex:4,min:0,max:colorMax,position:'right',name:'Heavy Fuel Oil (floating) (kg/m²)',nameRotate:90,nameGap:33,
  nameTextStyle:{color:TEXT,fontSize:18.5,fontFamily:FONT},
  axisTick:{inside:true,length:5,customValues:colorbarTicks,lineStyle:{color:'#222'}},
  axisLabel:{color:TEXT,fontSize:15.5,fontFamily:FONT,margin:4,customValues:colorbarTicks,formatter:v=>String(v)}});
yAxes.push({type:'value',gridIndex:4,min:0,max:colorMax,position:'left',axisLine:{show:true,lineStyle:{color:'#222'}},splitLine:{show:false},
  axisTick:{inside:true,length:5,customValues:colorbarTicks,lineStyle:{color:'#222'}},axisLabel:{show:false}});
series.push({type:'custom',xAxisIndex:4,yAxisIndex:4,z:1,silent:true,data:cbLevels.map(k=>[k]),encode:{x:-1,y:-1},
  renderItem:(p,api)=>{
    const k=api.value(0),v0=k/64*colorMax,v1=(k+1)/64*colorMax;
    const a=api.coord([0,v0]),b=api.coord([1,v1]);
    return {type:'rect',shape:{x:a[0],y:b[1],width:b[0]-a[0],height:a[1]-b[1]+0.5},style:{fill:jet((k+0.5)/64*colorMax)}};
  }});
titles.push({text:'x 10',left:1215,top:182,padding:0,textStyle:{color:TEXT,fontSize:15,fontWeight:'normal',fontFamily:FONT}});
titles.push({text:'-3',left:1246,top:177,padding:0,textStyle:{color:TEXT,fontSize:11,fontWeight:'normal',fontFamily:FONT}});

const chart=echarts.init(document.getElementById('c'),null,{renderer:'canvas'});
chart.setOption({animation:false,backgroundColor:'#fff',title:titles,grid:grids,xAxis:xAxes,yAxis:yAxes,series:series});
</script></body></html>
